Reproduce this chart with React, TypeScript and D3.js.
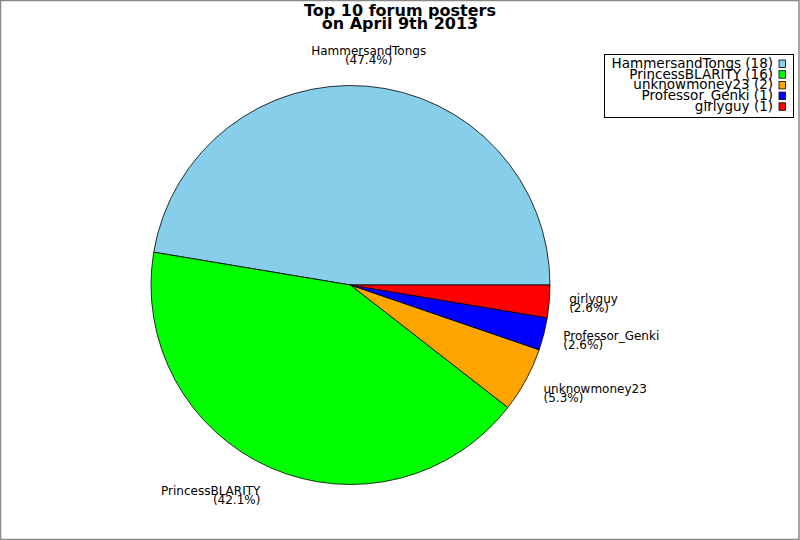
import * as d3 from 'd3';
import React, { useRef, useEffect } from 'react';

const posters = ['HammersandTongs', 'PrincessBLARITY', 'unknowmoney23', 'Professor_Genki', 'girlyguy'];
const posts = [18, 16, 2, 1, 1];
const colors = ['#87ceeb', '#00ff00', '#ffa500', '#0000ff', '#ff0000'];
const titleLines = ['Top 10 forum posters', 'on April 9th 2013'];

const W = 800;
const H = 540;

export default function App() {
  const svgRef = useRef<SVGSVGElement>(null);

  useEffect(() => {
    if (!svgRef.current) return;
    const svg = d3.select(svgRef.current);
    svg.selectAll('*').remove();
    const font = 'DejaVu Sans, sans-serif';

    // frame
    svg.append('rect')
      .attr('x', 0.5).attr('y', 0.5)
      .attr('width', W - 1.5).attr('height', H - 1)
      .attr('fill', 'white').attr('stroke', '#888').attr('stroke-width', 1.5);

    // title
    svg.append('g').selectAll('text')
      .data(titleLines)
      .enter().append('text')
      .attr('x', 400)
      .attr('y', (d, i) => 16 + i * 13)
      .attr('text-anchor', 'middle')
      .attr('font-family', font)
      .attr('font-weight', 'bold')
      .attr('font-size', 16)
      .text(d => d);

    const total = d3.sum(posts);
    const cx = 350.5, cy = 285, r = 199.5;

    // counter-clockwise from 3 o'clock
    const pie = d3.pie<number>().sort(null).startAngle(Math.PI / 2).endAngle(Math.PI / 2 - 2 * Math.PI);
    const arcs = pie(posts);
    const arc = d3.arc<d3.PieArcDatum<number>>().innerRadius(0).outerRadius(r);

    const g = svg.append('g').attr('transform', `translate(${cx},${cy})`);
    g.selectAll('path')
      .data(arcs)
      .enter().append('path')
      .attr('d', arc)
      .attr('fill', (d, i) => colors[i])
      .attr('stroke', 'black')
      .attr('stroke-width', 0.8)
      .attr('stroke-linejoin', 'round');

    // labels
    const fmt = d3.format('.1f');
    arcs.forEach((a, i) => {
      const mid = (a.startAngle + a.endAngle) / 2;
      const cosT = Math.sin(mid);
      const sinT = Math.cos(mid);
      const ax = r * 1.1 * cosT;
      const ay = -r * 1.1 * sinT;
      const anchor = Math.abs(cosT) < 0.2 ? 'middle' : cosT > 0 ? 'start' : 'end';
      const centerY = ay - sinT * 10.5;
      const b1 = centerY - 1;
      const t = g.append('text')
        .attr('font-family', font)
        .attr('font-size', 12)
        .attr('text-anchor', anchor);
      t.append('tspan').attr('x', ax - (cosT < -0.2 ? 2 : 0)).attr('y', b1).text(posters[i]);
      t.append('tspan').attr('x', ax - (cosT < -0.2 ? 2 : 0)).attr('y', b1 + 9).text(`(${fmt((posts[i] / total) * 100)}%)`);
    });

    // legend
    const lg = svg.append('g');
    lg.append('rect')
      .attr('x', 604.5).attr('y', 54.5)
      .attr('width', 189).attr('height', 63)
      .attr('fill', 'white').attr('stroke', 'black').attr('stroke-width', 1);
    posters.forEach((p, i) => {
      lg.append('text')
        .attr('x', 773)
        .attr('y', 68 + i * 10.7)
        .attr('text-anchor', 'end')
        .attr('font-family', font)
        .attr('font-size', 13.5)
        .text(`${p} (${posts[i]})`);
      lg.append('rect')
        .attr('x', 779).attr('y', 60 + i * 10.7)
        .attr('width', 6.5).attr('height', 7.5)
        .attr('fill', colors[i])
        .attr('stroke', 'black').attr('stroke-width', 0.8);
    });
  }, []);

  return (
    <div>
      <style>{'body{margin:0}'}</style>
      <svg ref={svgRef} width={W} height={H} style={{ display: 'block' }} />
    </div>
  );
}
